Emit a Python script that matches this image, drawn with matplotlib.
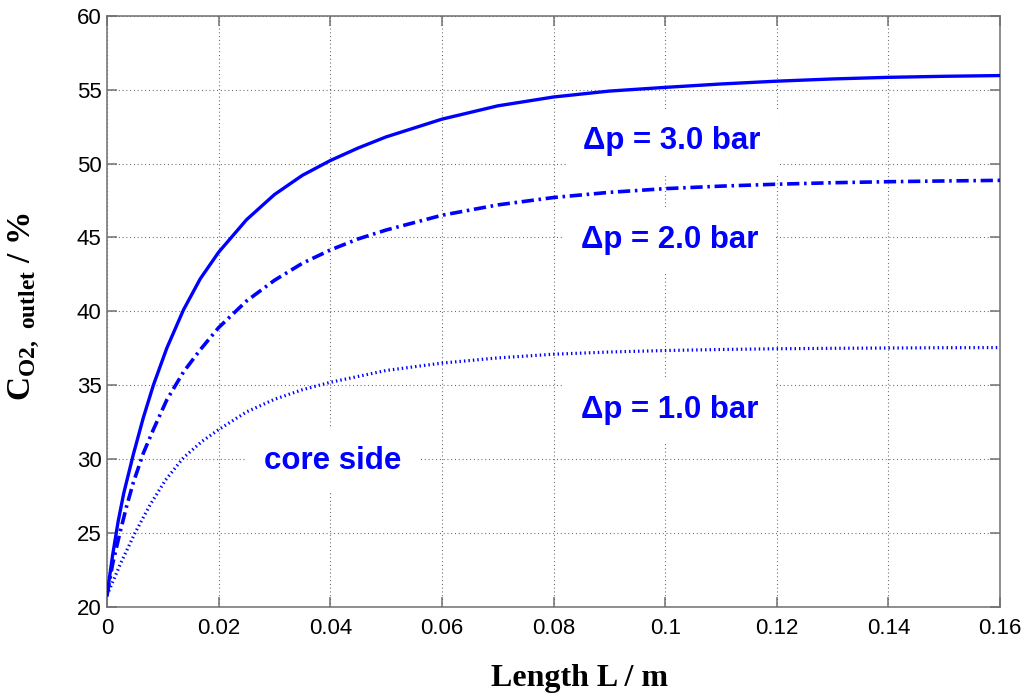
import matplotlib
matplotlib.use("Agg")
import matplotlib.pyplot as plt

# Outlet oxygen concentration along the membrane (core side)
x_3bar = [0, 0.001, 0.002, 0.003, 0.0047, 0.0065, 0.0083, 0.0107, 0.0137, 0.0167,
          0.020, 0.025, 0.030, 0.035, 0.040, 0.045, 0.050, 0.060, 0.070, 0.080,
          0.090, 0.100, 0.110, 0.120, 0.130, 0.140, 0.150, 0.160]
y_3bar = [20.8, 23.5, 25.8, 27.7, 30.3, 32.8, 35.0, 37.5, 40.1, 42.2,
          44.0, 46.2, 47.9, 49.2, 50.2, 51.05, 51.8, 53.0, 53.9, 54.5,
          54.9, 55.15, 55.38, 55.57, 55.72, 55.83, 55.9, 55.95]

x_2bar = [0, 0.001, 0.0023, 0.0035, 0.0047, 0.0065, 0.0083, 0.0107, 0.0137, 0.0167,
          0.020, 0.025, 0.030, 0.035, 0.040, 0.045, 0.050, 0.060, 0.070, 0.080,
          0.090, 0.100, 0.110, 0.120, 0.130, 0.140, 0.150, 0.160]
y_2bar = [20.8, 22.9, 25.0, 26.8, 28.4, 30.4, 32.0, 34.0, 35.9, 37.4,
          38.9, 40.7, 42.1, 43.25, 44.15, 44.9, 45.5, 46.5, 47.2, 47.7,
          48.05, 48.3, 48.47, 48.6, 48.7, 48.77, 48.82, 48.86]

x_1bar = [0, 0.0025, 0.005, 0.0077, 0.0105, 0.0137, 0.017, 0.020, 0.025, 0.030,
          0.035, 0.040, 0.050, 0.060, 0.070, 0.080, 0.090, 0.100, 0.110, 0.120,
          0.130, 0.140, 0.150, 0.160]
y_1bar = [20.8, 23.0, 25.0, 26.9, 28.6, 30.1, 31.2, 32.0, 33.2, 34.05,
          34.7, 35.2, 36.0, 36.5, 36.85, 37.1, 37.25, 37.35, 37.42, 37.47,
          37.5, 37.52, 37.54, 37.55]

x_ticks = [0, 0.02, 0.04, 0.06, 0.08, 0.1, 0.12, 0.14, 0.16]
x_ticklabels = ["0", "0.02", "0.04", "0.06", "0.08", "0.1", "0.12", "0.14", "0.16"]
y_ticks = [20, 25, 30, 35, 40, 45, 50, 55, 60]

labels = ["\u0394p = 3.0 bar", "\u0394p = 2.0 bar", "\u0394p = 1.0 bar", "core side"]
label_pos = [(0.1012, 51.5), (0.1008, 44.85), (0.1008, 33.3), (0.0405, 29.86)]

plt.rcParams["mathtext.fontset"] = "custom"
plt.rcParams["mathtext.rm"] = "Liberation Serif"
plt.rcParams["mathtext.bf"] = "Liberation Serif:bold"

fig = plt.figure(figsize=(10.26, 6.97), dpi=100)
ax = fig.add_axes([0.1043, 0.1291, 0.8704, 0.8484])

blue = "#0000ff"
ax.plot(x_3bar, y_3bar, color=blue, lw=2.4, ls="-", zorder=3)
ax.plot(x_2bar, y_2bar, color=blue, lw=2.6, ls=(0, (3.4, 1.3, 0.7, 1.3)), zorder=3)
ax.plot(x_1bar, y_1bar, color=blue, lw=2.3, ls=(0, (0.45, 0.95)), zorder=3)

ax.set_xlim(0, 0.16)
ax.set_ylim(20, 60)
ax.set_xticks(x_ticks)
ax.set_xticklabels(x_ticklabels)
ax.set_yticks(y_ticks)

ax.grid(True, color="#555555", lw=0.8, ls=(0, (0.8, 2.6)), zorder=0)
ax.set_axisbelow(True)

for s in ax.spines.values():
    s.set_color("#707070")
    s.set_linewidth(1.1)

ax.tick_params(direction="in", length=7, width=1.1, color="#707070",
               top=True, right=True, labelsize=16, labelcolor="black")
ax.tick_params(axis="x", pad=8)
ax.tick_params(axis="y", pad=4)
for lab in ax.get_xticklabels() + ax.get_yticklabels():
    lab.set_family("Liberation Sans")

for txt, (tx, ty) in zip(labels, label_pos):
    ax.text(tx, ty, txt, color=blue, fontsize=22.5, fontweight="bold",
            family="Liberation Sans", ha="center", va="center", zorder=4,
            bbox=dict(boxstyle="square,pad=0.55", facecolor="white", edgecolor="none"))

fig.text(0.565, 0.027, "Length L / m", fontsize=23, fontweight="bold",
         family="Liberation Serif", ha="center", va="center")
fig.text(0.024, 0.56, r"$\mathbf{C}_{\mathbf{O2,\ outlet}}$ / %", fontsize=24,
         fontweight="bold", family="Liberation Serif", rotation=90,
         ha="center", va="center")

fig.savefig("out.png", dpi=100, facecolor="white")
